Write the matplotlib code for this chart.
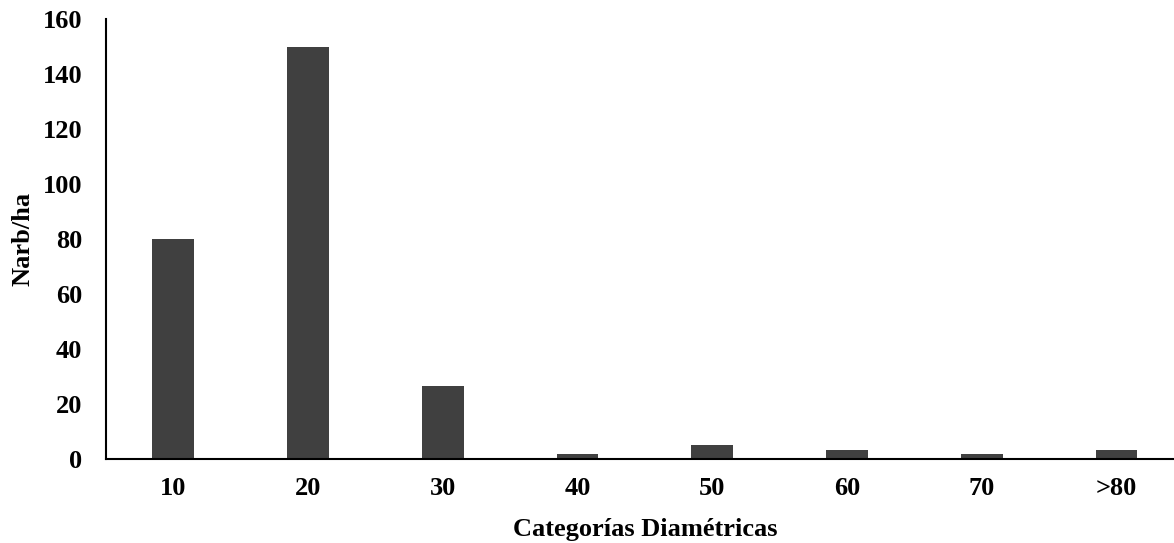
import matplotlib
matplotlib.use("Agg")
import matplotlib.pyplot as plt
import numpy as np

categories = ["10", "20", "30", "40", "50", "60", "70", ">80"]
values = [80, 150, 26.67, 1.67, 5, 3.33, 1.67, 3.33]
yticks = [0, 20, 40, 60, 80, 100, 120, 140, 160]

plt.rcParams['font.family'] = ['Liberation Serif', 'DejaVu Serif']
plt.rcParams['font.weight'] = 'bold'

fig = plt.figure(figsize=(11.74, 5.43), dpi=100)
ax = fig.add_axes([0.0903, 0.1547, 0.918, 0.8103])
x = np.arange(len(categories))
ax.bar(x, values, width=0.31, color="#404040")
ax.set_xlim(-0.5, len(categories) - 0.5)
ax.set_ylim(0, 160)
ax.set_yticks(yticks)
ax.set_xticks(x)
ax.set_xticklabels(categories)
ax.tick_params(axis='both', length=0, labelsize=19)
ax.tick_params(axis='x', pad=13)
ax.tick_params(axis='y', pad=17)
for lab in ax.get_xticklabels() + ax.get_yticklabels():
    lab.set_fontweight('bold')
ax.spines['top'].set_visible(False)
ax.spines['right'].set_visible(False)
ax.spines['left'].set_linewidth(1.5)
ax.spines['bottom'].set_linewidth(1.5)
ax.set_xlabel("Categorías Diamétricas", fontsize=19, fontweight='bold', labelpad=13)
ax.set_ylabel("Narb/ha", fontsize=19, fontweight='bold', labelpad=6)
fig.savefig("out.png", dpi=100)
